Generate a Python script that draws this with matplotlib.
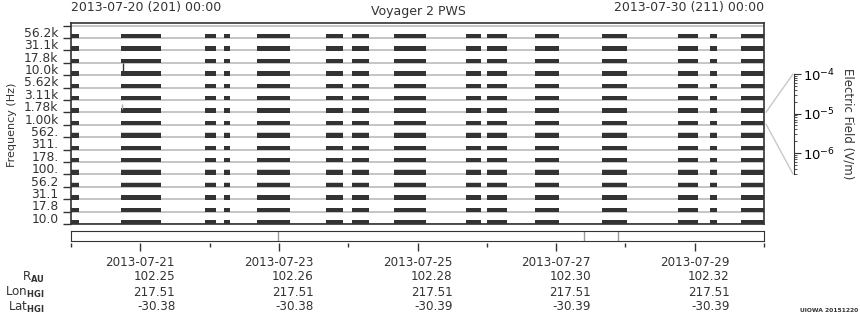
import datetime as dt
import matplotlib
matplotlib.use("Agg")
import matplotlib.pyplot as plt
import matplotlib.dates as mdates
import matplotlib.transforms as mtransforms
from matplotlib.patches import ConnectionPatch

# channel labels, bottom to top
channels = ["10.0", "17.8", "31.1", "56.2", "100.", "178.", "311.", "562.",
            "1.00k", "1.78k", "3.11k", "5.62k", "10.0k", "17.8k", "31.1k", "56.2k"]

# data coverage intervals, days after 2013-07-20 00:00
spans = [(0.00, 0.12), (0.72, 1.30), (1.93, 2.09), (2.21, 2.29), (2.68, 3.16),
         (3.68, 3.92), (4.05, 4.30), (4.66, 5.12), (5.70, 5.92), (6.00, 6.29),
         (6.70, 7.04), (7.66, 8.02), (8.76, 9.05), (9.22, 9.32), (9.67, 10.00)]

# channels showing faint grey texture above the bars
faint_rows = [3, 4, 7]

# boundary marks in the lower strip (days)
strip_marks = [2.99, 7.40, 7.89]

# ephemeris table
tick_days = [1, 3, 5, 7, 9]
tick_dates = ["2013-07-21", "2013-07-23", "2013-07-25", "2013-07-27", "2013-07-29"]
r_au = ["102.25", "102.26", "102.28", "102.30", "102.32"]
lon_hgi = ["217.51", "217.51", "217.51", "217.51", "217.51"]
lat_hgi = ["-30.38", "-30.38", "-30.39", "-30.39", "-30.39"]

t0 = mdates.date2num(dt.datetime(2013, 7, 20))
t1 = mdates.date2num(dt.datetime(2013, 7, 30))

txt = "#333333"
bar_c = "#333333"
grid_c = "#bbbbbb"
plt.rcParams["font.family"] = "DejaVu Sans"
plt.rcParams["text.color"] = txt

W, H = 860, 320
fig = plt.figure(figsize=(W / 100, H / 100), dpi=100)


def box(x0, y0, x1, y1):
    # pixel box (top-left origin) -> figure fraction rect
    return [x0 / W, 1 - y1 / H, (x1 - x0) / W, (y1 - y0) / H]


# main panel
ax = fig.add_axes(box(71, 23, 764, 224))
ax.set_xlim(t0, t1)
ax.set_ylim(0, 16.21)
for k in range(17):
    ax.axhline(k, color=grid_c, lw=1.2, zorder=1)
for i in range(len(channels)):
    xr = [(t0 + s, e - s) for s, e in spans]
    if i in faint_rows:
        ax.broken_barh(xr, (i, 0.42), facecolors="#d0d0d0", zorder=2)
    ax.broken_barh(xr, (i - 0.03, 0.36), facecolors=bar_c, zorder=3)
# small spike in 10.0k channel
ax.vlines(t0 + 0.75, 12.2, 13.0, color=bar_c, lw=1, zorder=3)
ax.vlines(t0 + 0.74, 9.3, 9.7, color="#aaaaaa", lw=1, zorder=3)

ax.set_yticks(range(17))
ax.set_yticklabels([])
ax.set_yticks([i + 0.5 for i in range(16)], minor=True)
ax.set_yticklabels(channels, minor=True, fontsize=8.8, color=txt)
ax.tick_params(axis="y", which="major", length=6, width=1, color=txt, direction="out")
ax.tick_params(axis="y", which="minor", length=0, pad=9)
ax.set_xticks([])
for sp in ax.spines.values():
    sp.set_color(txt)
    sp.set_linewidth(1.2)
fig.text(12 / W, 1 - 125 / H, "Frequency (Hz)", rotation=90, ha="center",
         va="center", fontsize=8)

fig.text(71 / W, 1 - 8 / H, "2013-07-20 (201) 00:00", ha="left", va="center", fontsize=9)
fig.text(418 / W, 1 - 11 / H, "Voyager 2 PWS", ha="center", va="center", fontsize=9)
fig.text(764 / W, 1 - 8 / H, "2013-07-30 (211) 00:00", ha="right", va="center", fontsize=9)

# color scale axis
cax = fig.add_axes(box(793, 74, 793.5, 174))
cax.set_yscale("log")
cax.set_ylim(10 ** -6.53, 1e-4)
cax.set_xticks([])
for side in ["left", "top", "bottom"]:
    cax.spines[side].set_visible(False)
cax.spines["right"].set_color(txt)
cax.yaxis.tick_right()
cax.set_yticks([1e-6, 1e-5, 1e-4])
cax.set_yticklabels([r"$\mathregular{10^{-6}}$", r"$\mathregular{10^{-5}}$",
                     r"$\mathregular{10^{-4}}$"], fontsize=9.5)
cax.tick_params(axis="y", which="major", length=5, color=txt, pad=2)
cax.tick_params(axis="y", which="minor", length=2.5, color=txt)
fig.text(848 / W, 1 - 124 / H, "Electric Field (V/m)", rotation=270, ha="center",
         va="center", fontsize=8.5)
for ya, yb in [(9.02, 1e-4), (8.05, 10 ** -6.53)]:
    con = ConnectionPatch(xyA=(t1 + 0.03, ya), coordsA=ax.transData,
                          xyB=(0, yb), coordsB=cax.get_yaxis_transform(),
                          color="#c8c8c8", lw=1)
    fig.add_artist(con)

# lower strip
sax = fig.add_axes(box(71, 231, 764, 241))
sax.set_xlim(t0, t1)
sax.set_ylim(0, 1)
sax.set_xticks([])
sax.set_yticks([])
for sp in sax.spines.values():
    sp.set_color(txt)
for d in strip_marks:
    sax.axvline(t0 + d, color="#999999", lw=1)

# time tick axis
tax = fig.add_axes(box(71, 237, 764, 243))
tax.set_xlim(t0, t1)
tax.set_yticks([])
for sp in tax.spines.values():
    sp.set_visible(False)
tax.patch.set_alpha(0)
tax.set_xticks([t0 + d for d in tick_days])
tax.set_xticklabels([])
tax.set_xticks([t0 + d for d in range(0, 11, 2)], minor=True)
tax.tick_params(axis="x", which="major", length=5.5, width=1, color=txt)
tax.tick_params(axis="x", which="minor", length=3, width=1, color=txt)

blend = mtransforms.blended_transform_factory(tax.transData, fig.transFigure)
rblend = mtransforms.offset_copy(blend, fig=fig, x=35, y=0, units="dots")
fs = 8.6
for j, d in enumerate(tick_days):
    x = t0 + d
    fig.text(x, 1 - 262 / H, tick_dates[j], transform=blend, ha="center", va="center", fontsize=fs)
    fig.text(x, 1 - 277 / H, r_au[j], transform=rblend, ha="right", va="center", fontsize=fs)
    fig.text(x, 1 - 292 / H, lon_hgi[j], transform=rblend, ha="right", va="center", fontsize=fs)
    fig.text(x, 1 - 307 / H, lat_hgi[j], transform=rblend, ha="right", va="center", fontsize=fs)

fig.text(45 / W, 1 - 277 / H, r"R$_{\mathbf{AU}}$", ha="right", va="center", fontsize=fs)
fig.text(45 / W, 1 - 292 / H, r"Lon$_{\mathbf{HGI}}$", ha="right", va="center", fontsize=fs)
fig.text(45 / W, 1 - 307 / H, r"Lat$_{\mathbf{HGI}}$", ha="right", va="center", fontsize=fs)

fig.text(858 / W, 1 - 310 / H, "UIOWA 20151220", ha="right", va="center",
         fontsize=4.3, fontweight="bold")

fig.savefig("out.png", dpi=100)
